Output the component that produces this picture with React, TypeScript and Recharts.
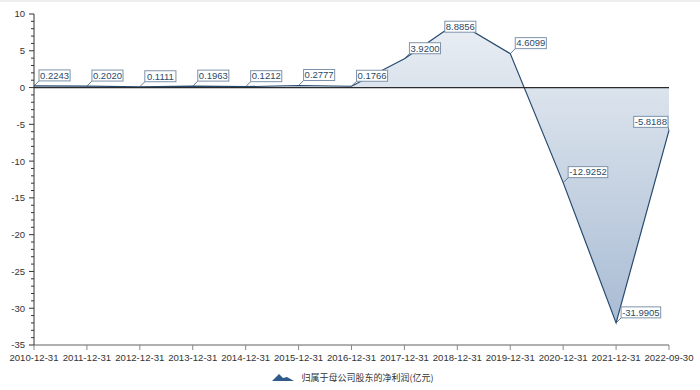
import { AreaChart, Area, XAxis, YAxis, ReferenceLine, LabelList, Legend } from "recharts";

const dates = [
  "2010-12-31", "2011-12-31", "2012-12-31", "2013-12-31", "2014-12-31", "2015-12-31",
  "2016-12-31", "2017-12-31", "2018-12-31", "2019-12-31", "2020-12-31", "2021-12-31", "2022-09-30",
];
const netProfit = [
  0.2243, 0.202, 0.1111, 0.1963, 0.1212, 0.2777, 0.1766, 3.92, 8.8856, 4.6099, -12.9252, -31.9905, -5.8188,
];
const yMajorTicks = [-35, -30, -25, -20, -15, -10, -5, 0, 5, 10];
const seriesName = "归属于母公司股东的净利润(亿元)";

const data = dates.map((d, i) => ({ date: d, value: netProfit[i] }));

// every whole unit gets a small tick, every fifth a labelled one
const yTicks: number[] = [];
for (let v = yMajorTicks[0]; v <= yMajorTicks[yMajorTicks.length - 1]; v++) yTicks.push(v);

const TOP = 14;
const RIGHT = 669;
const NUM_FONT = "'Liberation Sans', Arial, sans-serif";

function textWidth(s: string) {
  let w = 0;
  for (const c of s) w += c === "." ? 2.6 : c === "-" ? 3.2 : 5.3;
  return w;
}

function PointLabel(props: any) {
  const { x, y, value } = props;
  const text = Number(value).toFixed(4);
  const w = textWidth(text) + 2;
  const h = 11;
  let bx = x + 5;
  let by = y - 5 - h;
  let lead = true;
  let left = false;
  if (by < TOP) {
    bx = x - w / 2 + 3;
    by = y - 1;
    lead = false;
  } else if (bx + w > RIGHT + 10) {
    bx = x - 1 - w;
    by = y - 3 - h;
    left = true;
  }
  return (
    <g>
      {lead && (
        <line x1={x} y1={y} x2={left ? bx + w : bx} y2={by + h} stroke="#3b5a7a" strokeWidth={0.8} />
      )}
      <rect x={bx} y={by} width={w} height={h} fill="#fff" stroke="#7d93aa" strokeWidth={1} />
      <text
        x={bx + w / 2}
        y={by + h / 2}
        dy={3.3}
        textAnchor="middle"
        fontSize={9.5}
        fontFamily={NUM_FONT}
        fill="#2c4a66"
      >
        {text}
      </text>
    </g>
  );
}

function YTick(props: any) {
  const { x, y, payload } = props;
  const v = payload.value;
  const major = v % 5 === 0;
  return (
    <g>
      <line x1={x - (major ? 5 : 3)} x2={x} y1={y} y2={y} stroke="#333" strokeWidth={1} />
      {major && (
        <text x={x - 9} y={y} dy={3.4} textAnchor="end" fontSize={9.5} fontFamily={NUM_FONT} fill="#333">
          {v}
        </text>
      )}
    </g>
  );
}

function LegendContent() {
  return (
    <div
      style={{ display: "flex", justifyContent: "center", alignItems: "center", height: 22, gap: 7, paddingLeft: 6 }}
    >
      <svg width={22} height={7}>
        <path d="M0 7 L7 0 L11 4 L15 3 L22 7 Z" fill="#2f5b8a" />
      </svg>
      <span style={{ fontSize: 9, color: "#333", fontFamily: "'Noto Sans CJK SC', sans-serif" }}>{seriesName}</span>
    </div>
  );
}

export default function App() {
  return (
    <div style={{ position: "absolute", left: 0, top: 0, width: 700, height: 390, background: "#fff" }}>
      <div style={{ position: "absolute", left: 0, top: 0, width: 700, height: 2, background: "#eceef0" }} />
      <AreaChart width={700} height={390} data={data} margin={{ top: TOP, right: 31, left: 0, bottom: 2 }}>
        <defs>
          <linearGradient id="profitFill" x1="0" y1="0" x2="0" y2="1">
            <stop offset="0%" stopColor="#e9eef3" />
            <stop offset="100%" stopColor="#a9bcd4" />
          </linearGradient>
        </defs>
        <XAxis
          dataKey="date"
          interval={0}
          height={21}
          tickSize={5}
          tickMargin={4}
          axisLine={{ stroke: "#b0b0b0", strokeWidth: 2 }}
          tickLine={{ stroke: "#888" }}
          tick={{ fontSize: 9.6, fill: "#333", fontFamily: NUM_FONT }}
        />
        <YAxis
          type="number"
          domain={[yMajorTicks[0], yMajorTicks[yMajorTicks.length - 1]]}
          ticks={yTicks}
          interval={0}
          width={34}
          tickSize={0}
          tickMargin={0}
          tickLine={false}
          axisLine={{ stroke: "#333" }}
          tick={<YTick />}
        />
        <Area
          type="linear"
          dataKey="value"
          name={seriesName}
          baseValue={0}
          stroke="#27496f"
          strokeWidth={1.2}
          fill="url(#profitFill)"
          fillOpacity={1}
          dot={false}
          activeDot={false}
          isAnimationActive={false}
        >
          <LabelList dataKey="value" content={<PointLabel />} />
        </Area>
        <ReferenceLine y={0} stroke="#2b2b2b" strokeWidth={1.2} />
        <Legend
          verticalAlign="bottom"
          height={22}
          wrapperStyle={{ left: 0, width: 700 }}
          content={<LegendContent />}
        />
      </AreaChart>
    </div>
  );
}
